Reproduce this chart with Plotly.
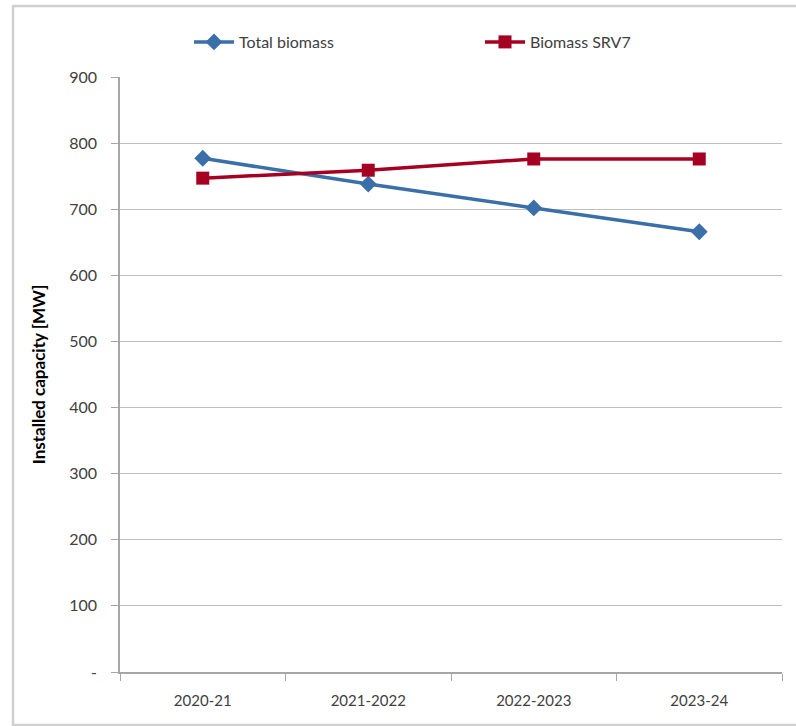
import plotly.graph_objects as go

categories = ["2020-21", "2021-2022", "2022-2023", "2023-24"]
total_biomass = [777, 738, 702, 666]
biomass_srv7 = [747, 759, 776, 776]
y_tick_vals = [0, 100, 200, 300, 400, 500, 600, 700, 800, 900]
y_tick_text = ["-", "100", "200", "300", "400", "500", "600", "700", "800", "900"]

FONT = "Lato, 'Open Sans', sans-serif"
blue = "#3a6fa8"
red = "#a50021"

fig = go.Figure()
fig.add_trace(go.Scatter(
    x=categories, y=total_biomass, name="Total biomass", mode="lines+markers",
    line=dict(color=blue, width=3.5),
    marker=dict(symbol="diamond", size=13, color=blue),
))
fig.add_trace(go.Scatter(
    x=categories, y=biomass_srv7, name="Biomass SRV7", mode="lines+markers",
    line=dict(color=red, width=3.5),
    marker=dict(symbol="square", size=13, color=red),
))

L, R, T, B = 120, 14, 77, 54
W, H = 796, 726
pw = W - L - R
ph = H - T - B

fig.update_layout(
    width=W, height=H,
    margin=dict(l=L, r=R, t=T, b=B, autoexpand=False),
    paper_bgcolor="white", plot_bgcolor="white",
    font=dict(family=FONT, size=15, color="#404040"),
    showlegend=True,
    legend=dict(
        orientation="h", x=(189 - L) / pw, xanchor="left",
        y=1 + (T - 42) / ph, yanchor="middle",
        entrywidth=236, entrywidthmode="pixels", itemwidth=40,
        font=dict(size=16, color="#404040"), bgcolor="rgba(0,0,0,0)",
        tracegroupgap=0,
    ),
    xaxis=dict(
        type="category", range=[-0.5, 3.5], automargin=False,
        showline=True, linecolor="#a6a6a6", linewidth=1.5,
        ticks="outside", tickson="boundaries", ticklen=7, tickcolor="#a6a6a6",
        showgrid=False, zeroline=False,
        tickfont=dict(size=15, color="#404040"),
        ticklabelstandoff=14,
    ),
    yaxis=dict(
        range=[0, 900], tickvals=y_tick_vals, ticktext=y_tick_text, automargin=False,
        showline=True, linecolor="#a6a6a6", linewidth=1.5,
        ticks="outside", ticklen=7, tickcolor="#a6a6a6",
        showgrid=True, gridcolor="#bfbfbf", gridwidth=1.2,
        zeroline=False,
        tickfont=dict(size=16, color="#404040"),
        ticklabelstandoff=11,
        title=dict(text="<b>Installed capacity [MW]</b>", font=dict(size=17, color="#000000"), standoff=19),
    ),
)

# outer frame
fig.add_shape(
    type="rect", xref="paper", yref="paper",
    x0=(13 - L) / pw, x1=(800 - L) / pw,
    y0=-(725 - (H - B)) / ph, y1=1 + (T - 6) / ph,
    line=dict(color="#d0d0d0", width=2.5), layer="below",
)

fig.write_html(
    "out.html",
    config={"displayModeBar": False},
    post_script="document.body.style.margin='0';document.body.style.overflow='hidden';",
)
